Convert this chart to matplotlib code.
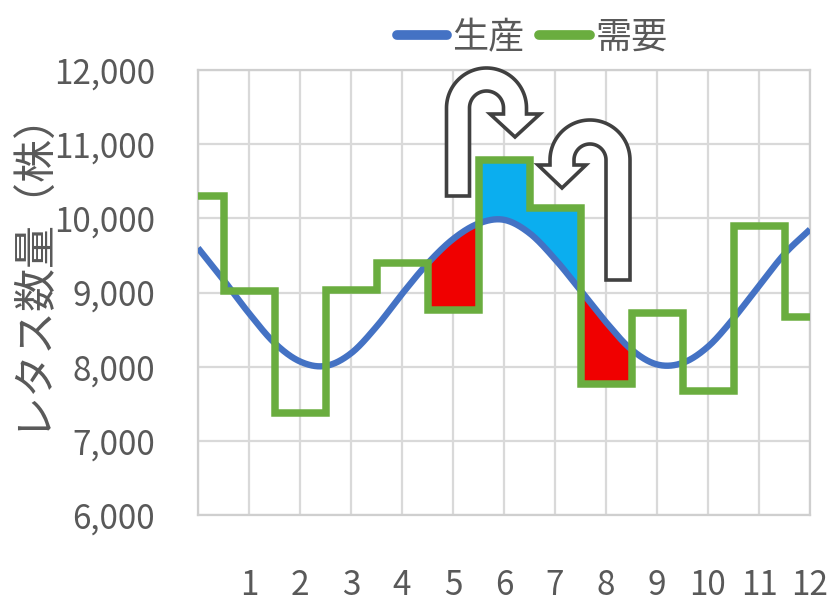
import numpy as np
import matplotlib
matplotlib.use("Agg")
import matplotlib.pyplot as plt
from matplotlib.lines import Line2D
from matplotlib.patches import Polygon

# ---- data -------------------------------------------------------------
months = list(range(13))
month_labels = [""] + [str(m) for m in range(1, 13)]

# monthly demand (step line)
demand = [10300, 9020, 7380, 9030, 9400, 8760, 10780, 10140,
          7760, 8720, 7670, 9890, 8670]

# production, sampled every half month (smooth line)
production_month = [0.0, 0.5, 1.0, 1.5, 2.0, 2.5, 3.0, 3.5, 4.0, 4.5, 5.0, 5.5,
                    6.0, 6.5, 7.0, 7.5, 8.0, 8.5, 9.0, 9.5, 10.0, 10.5, 11.0,
                    11.5, 12.0]
production = [9600, 9170, 8720, 8320, 8070, 8010, 8180, 8540, 8980, 9390,
              9720, 9930, 9980, 9800, 9450, 9030, 8600, 8230, 8030, 8050,
              8270, 8650, 9090, 9520, 9850]

y_ticks = [6000, 7000, 8000, 9000, 10000, 11000, 12000]
series_names = ["生産", "需要"]
y_title = "レタス数量（株）"

# months where surplus / shortage are shaded
shade_from, shade_to = 4.5, 8.5

BLUE = "#4472C4"
GREEN = "#6AAD3F"
RED = "#F00000"
CYAN = "#0BAEEF"
TEXT = "#595959"
GRID = "#D9D9D9"

plt.rcParams["font.family"] = ["Noto Sans CJK JP", "DejaVu Sans"]


def catmull_rom(xp, yp, per_seg=60):
    """Smooth curve through the points (uniform spacing)."""
    xp = np.asarray(xp, float)
    yp = np.asarray(yp, float)
    ext = np.concatenate([[2 * yp[0] - yp[1]], yp, [2 * yp[-1] - yp[-2]]])
    xs, ys = [], []
    t = np.linspace(0, 1, per_seg, endpoint=False)
    for i in range(len(yp) - 1):
        p0, p1, p2, p3 = ext[i], ext[i + 1], ext[i + 2], ext[i + 3]
        y = 0.5 * (2 * p1 + (-p0 + p2) * t
                   + (2 * p0 - 5 * p1 + 4 * p2 - p3) * t ** 2
                   + (-p0 + 3 * p1 - 3 * p2 + p3) * t ** 3)
        xs.append(xp[i] + (xp[i + 1] - xp[i]) * t)
        ys.append(y)
    xs.append([xp[-1]])
    ys.append([yp[-1]])
    return np.concatenate(xs), np.concatenate(ys)


W, H = 831, 605
fig = plt.figure(figsize=(W / 100, H / 100), dpi=100)
ax = fig.add_axes([198 / W, 90 / H, 612 / W, 445 / H])

cx, cy = catmull_rom(production_month, production)
dem_dense = np.asarray(demand, float)[np.clip(np.floor(cx + 0.5).astype(int), 0, 12)]
window = (cx >= shade_from) & (cx <= shade_to)

ax.fill_between(cx, cy, dem_dense, where=window & (cy > dem_dense),
                color=RED, lw=0, zorder=2)
ax.fill_between(cx, cy, dem_dense, where=window & (cy <= dem_dense),
                color=CYAN, lw=0, zorder=2)

ax.plot(cx, cy, color=BLUE, lw=4.6, zorder=3, solid_capstyle="butt")
ax.plot(months, demand, drawstyle="steps-mid", color=GREEN, lw=5.4,
        zorder=4, solid_joinstyle="miter", solid_capstyle="butt")

ax.set_xlim(0, 12)
ax.set_ylim(6000, 12000)
ax.set_xticks(months)
ax.set_xticklabels(month_labels)
ax.set_yticks(y_ticks)
ax.set_yticklabels([f"{v:,}" for v in y_ticks])
ax.tick_params(axis="both", length=0, labelsize=24, labelcolor=TEXT)
ax.tick_params(axis="x", pad=38)
ax.tick_params(axis="y", pad=31)
ax.grid(True, color=GRID, lw=1.6)
ax.set_axisbelow(True)
for s in ax.spines.values():
    s.set_color("#CFCFCF")
    s.set_linewidth(1.6)

# vertical axis title
fig.text(30 / W, 1 - 258 / H, y_title, rotation=90, ha="center", va="center",
         fontsize=31, color=TEXT, family=["Noto Sans CJK JP"])

# legend
handles = [Line2D([], [], color=BLUE, lw=7, solid_capstyle="round"),
           Line2D([], [], color=GREEN, lw=7, solid_capstyle="round")]
leg = fig.legend(handles, series_names, loc="center", ncol=2,
                 bbox_to_anchor=(532 / W, 1 - 38 / H), frameon=False,
                 handlelength=1.4, handletextpad=0.15, columnspacing=0.4,
                 prop={"family": "Noto Sans CJK JP", "size": 26})
for t in leg.get_texts():
    t.set_color(TEXT)


def uturn(xs, xh, yc, yb, yhb, w, hw, hl, n=60):
    """Outline of a U-turn arrow in pixel coordinates (y downwards)."""
    s = 1 if xh > xs else -1
    cxa = (xs + xh) / 2
    R = abs(xh - xs) / 2
    th = np.linspace(np.pi, 0, n) if s == 1 else np.linspace(0, np.pi, n)
    pts = [(xs - s * w / 2, yb)]
    ro = R + w / 2
    pts += [(cxa + ro * np.cos(a), yc - ro * np.sin(a)) for a in th]
    pts += [(xh + s * w / 2, yhb), (xh + s * hw, yhb), (xh, yhb + hl),
            (xh - s * hw, yhb), (xh - s * w / 2, yhb)]
    ri = R - w / 2
    pts += [(cxa + ri * np.cos(a), yc - ri * np.sin(a)) for a in th[::-1]]
    pts += [(xs + s * w / 2, yb)]
    return [(x / W, 1 - y / H) for x, y in pts]


for shape in (uturn(458, 515, 108, 196, 114, 23, 25, 23),
              uturn(618, 562, 160, 280, 165, 24, 24, 23)):
    fig.add_artist(Polygon(shape, closed=True, transform=fig.transFigure,
                           facecolor="white", edgecolor="#404040", lw=2.6,
                           joinstyle="miter", zorder=10))

fig.savefig("out.png", dpi=100, facecolor="white")
